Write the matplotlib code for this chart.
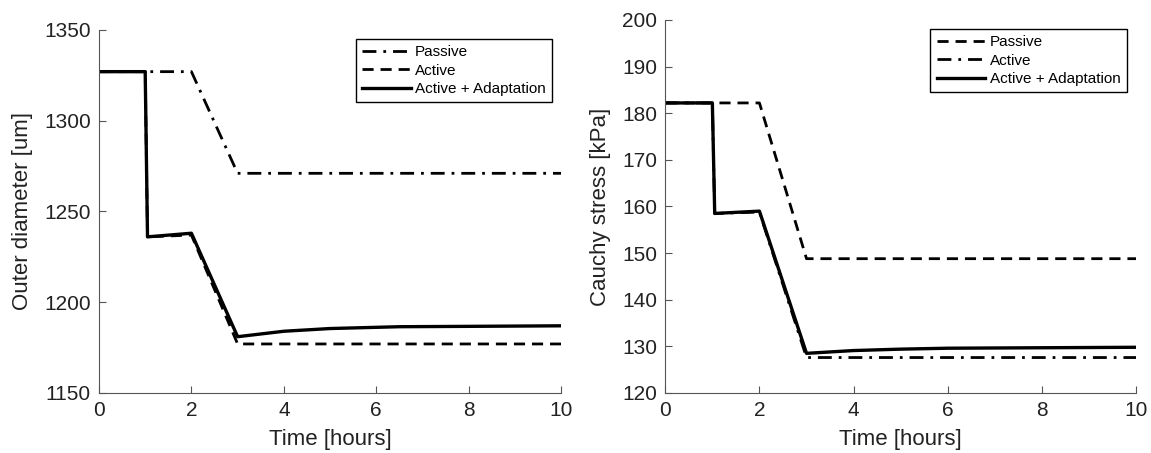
import matplotlib
matplotlib.use("Agg")
import matplotlib.pyplot as plt

plt.rcParams['font.family'] = ['Liberation Sans', 'DejaVu Sans']

# left panel: outer diameter [um]
d_pass_t = [0, 2, 3, 10]
d_pass = [1327, 1327, 1271, 1271]
d_act_t = [0, 1, 1.05, 2, 3, 10]
d_act = [1327, 1327, 1236, 1237, 1177, 1177]
d_adapt_t = [0, 1, 1.05, 2, 3, 3.5, 4, 5, 6.5, 8, 10]
d_adapt = [1327, 1327, 1236, 1238, 1181, 1182.5, 1184, 1185.5, 1186.5, 1186.7, 1187]

# right panel: cauchy stress [kPa]
s_pass_t = [0, 2, 3, 10]
s_pass = [182.2, 182.2, 148.8, 148.8]
s_act_t = [0, 1, 1.05, 2, 3, 10]
s_act = [182.2, 182.2, 158.5, 158.8, 127.6, 127.6]
s_adapt_t = [0, 1, 1.05, 2, 3, 3.5, 4, 5, 6, 8, 10]
s_adapt = [182.2, 182.2, 158.5, 159, 128.5, 128.8, 129.1, 129.4, 129.6, 129.7, 129.8]

DASH = (0, (4, 2.5))
DASHDOT = (0, (5, 2.5, 1, 2.5))

fig = plt.figure(figsize=(11.51, 4.53), dpi=100)
ax1 = fig.add_axes([0.086, 0.1325, 0.4015, 0.8015])
ax2 = fig.add_axes([0.578, 0.1325, 0.409, 0.8235])

ax1.plot(d_pass_t, d_pass, c="black", linestyle=DASHDOT, linewidth=2, label="Passive")
ax1.plot(d_act_t, d_act, c="black", linestyle=DASH, linewidth=2, label="Active")
ax1.plot(d_adapt_t, d_adapt, c="black", linestyle="-", linewidth=2.4, label="Active + Adaptation")
ax1.set_ylim(1150, 1350)
ax1.set_yticks([1150, 1200, 1250, 1300, 1350])
ax1.set_ylabel("Outer diameter [um]", fontsize=16, color='#222222', labelpad=8)

ax2.plot(s_pass_t, s_pass, c="black", linestyle=DASH, linewidth=2, label="Passive")
ax2.plot(s_act_t, s_act, c="black", linestyle=DASHDOT, linewidth=2, label="Active")
ax2.plot(s_adapt_t, s_adapt, c="black", linestyle="-", linewidth=2.4, label="Active + Adaptation")
ax2.set_ylim(120, 200)
ax2.set_yticks(range(120, 201, 10))
ax2.set_ylabel("Cauchy stress [kPa]", fontsize=16, color='#222222', labelpad=8)

for ax in (ax1, ax2):
    ax.set_xlim(0, 10)
    ax.set_xticks(range(0, 11, 2))
    ax.set_xlabel("Time [hours]", fontsize=16, color='#222222', labelpad=6)
    ax.spines['top'].set_visible(False)
    ax.spines['right'].set_visible(False)
    ax.spines['left'].set_color('#555555')
    ax.spines['bottom'].set_color('#555555')
    ax.tick_params(direction='in', labelsize=15, length=5, color='#555555',
                   labelcolor='#222222', pad=6)
    leg = ax.legend(loc='upper right', fontsize=11, fancybox=False, framealpha=1,
                    edgecolor='black', handlelength=3.2, borderaxespad=0.6,
                    labelspacing=0.3, handletextpad=0.3)
    leg.get_frame().set_linewidth(1.0)

fig.savefig("out.png", dpi=100)
